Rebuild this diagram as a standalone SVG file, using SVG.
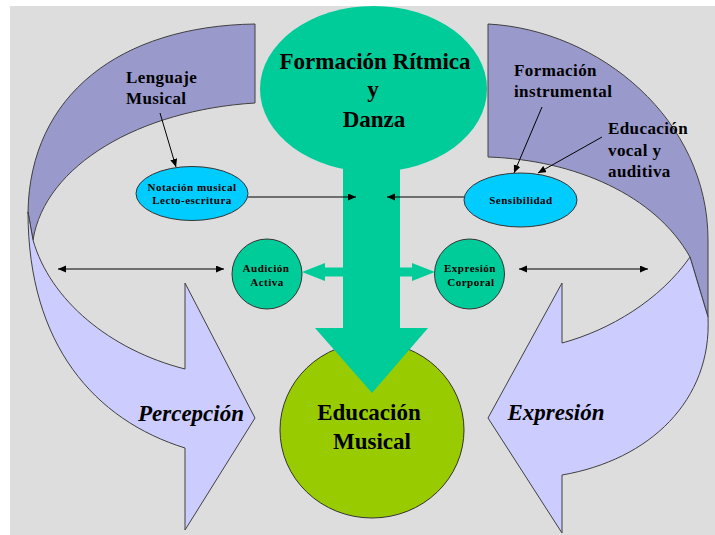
<svg xmlns="http://www.w3.org/2000/svg" width="715" height="535" viewBox="0 0 715 535">
<style>
.back{fill:#9999CC;stroke:#404040;stroke-width:1}
.front{fill:#CCCCFF;stroke:#404040;stroke-width:1}
.teal{fill:#00CC99}
.tealo{fill:#00CC99;stroke:#333;stroke-width:1}
.blue{fill:#00CCFF;stroke:#333;stroke-width:1}
.green{fill:#99CC00;stroke:#333;stroke-width:1}
text{font-weight:bold;fill:#000}
.big{font-size:23px}
.bigi{font-style:italic;font-size:23px}
.mid{font-size:17px;letter-spacing:0.4px}
.sm{font-size:11px;letter-spacing:0.5px}
.c{text-anchor:middle}
.ln{stroke:#000;stroke-width:1;fill:none}
</style>
<defs>
<marker id="ah" markerUnits="userSpaceOnUse" markerWidth="9" markerHeight="8" refX="8" refY="3.5" orient="auto-start-reverse">
<path d="M0,0 L8,3.5 L0,7 z" fill="#000"/>
</marker>
</defs>
<rect x="10" y="6" width="705" height="529" fill="#DDDDDD"/>

<g font-family="Liberation Serif, Tinos, Times New Roman, Noto Serif, DejaVu Serif, serif">
<g id="percepcion">
<path class="back" d="M255,24 L255,103 C140,110 45,165 33,240 L28,212 C30,95 120,26 255,24 Z"/>
<path class="front" d="M28,212 C28,345 95,420 185,448 L185,530 L255,418 L185,283 L185,369 C110,350 50,300 33,240 Z"/>
<text class="bigi c" x="191" y="421">Percepción</text>
</g>

<g id="expresion">
<path class="back" d="M488,24 C600,30 708,120 708,240 L708,317 L690,257 C655,195 575,160 488,157 Z"/>
<path class="front" d="M690,257 L708,317 C712,400 650,460 562,475 L562,533 L488,418 L562,283 L562,343 C610,330 660,300 690,257 Z"/>
<text class="bigi c" x="556" y="420">Expresión</text>
</g>

<g id="educacion-musical">
<ellipse class="green" cx="372" cy="430" rx="92" ry="88"/>
</g>

<g id="formacion-ritmica">
<ellipse class="teal" cx="373.5" cy="89" rx="113.5" ry="83"/>
<rect class="teal" x="343" y="160" width="57" height="169"/>
<path class="teal" d="M315,328 L428,328 L372,393 Z"/>
<path class="teal" d="M344,267.5 L325,267.5 L325,263 L302,272 L325,281 L325,276.5 L344,276.5 Z"/>
<path class="teal" d="M399,267.5 L412,267.5 L412,263 L435,272 L412,281 L412,276.5 L399,276.5 Z"/>
<text class="big c" x="375" y="69">Formación Rítmica</text>
<text class="big c" x="373" y="97">y</text>
<text class="big c" x="374" y="127">Danza</text>
</g>

<g id="educacion-musical-label">
<text class="big c" x="369" y="420">Educación</text>
<text class="big c" x="372" y="449">Musical</text>
</g>

<g id="audicion-activa">
<circle class="tealo" cx="267" cy="274" r="35"/>
<text class="sm c" x="266" y="272">Audición</text>
<text class="sm c" x="267" y="286">Activa</text>
</g>

<g id="expresion-corporal">
<circle class="tealo" cx="469.5" cy="274" r="35"/>
<text class="sm c" x="470" y="272">Expresión</text>
<text class="sm c" x="471" y="286">Corporal</text>
</g>

<g id="notacion">
<ellipse class="blue" cx="192" cy="193.5" rx="56" ry="27"/>
<text class="sm c" x="192" y="191">Notación musical</text>
<text class="sm c" x="192" y="204">Lecto-escritura</text>
</g>

<g id="sensibilidad">
<ellipse class="blue" cx="520.5" cy="200" rx="56.5" ry="27"/>
<text class="sm c" x="521" y="204">Sensibilidad</text>
</g>

<g id="lenguaje-musical">
<text class="mid" x="126" y="83">Lenguaje</text>
<text class="mid" x="126" y="104">Musical</text>
</g>

<g id="formacion-instrumental">
<text class="mid" x="514" y="76">Formación</text>
<text class="mid" x="514" y="97">instrumental</text>
</g>

<g id="educacion-vocal">
<text class="mid" x="608" y="134">Educación</text>
<text class="mid" x="608" y="156">vocal y</text>
<text class="mid" x="608" y="177">auditiva</text>
</g>
</g>

<g id="connectors">
<line class="ln" x1="160" y1="113" x2="176" y2="167" marker-end="url(#ah)"/>
<line class="ln" x1="542" y1="107" x2="514" y2="173" marker-end="url(#ah)"/>
<line class="ln" x1="602" y1="137" x2="538" y2="173" marker-end="url(#ah)"/>
<line class="ln" x1="248" y1="197" x2="356" y2="197" marker-end="url(#ah)"/>
<line class="ln" x1="464" y1="197" x2="387" y2="197" marker-end="url(#ah)"/>
<line class="ln" x1="58" y1="269" x2="224" y2="269" marker-start="url(#ah)" marker-end="url(#ah)"/>
<line class="ln" x1="519" y1="269" x2="648" y2="269" marker-start="url(#ah)" marker-end="url(#ah)"/>
</g>
</svg>
